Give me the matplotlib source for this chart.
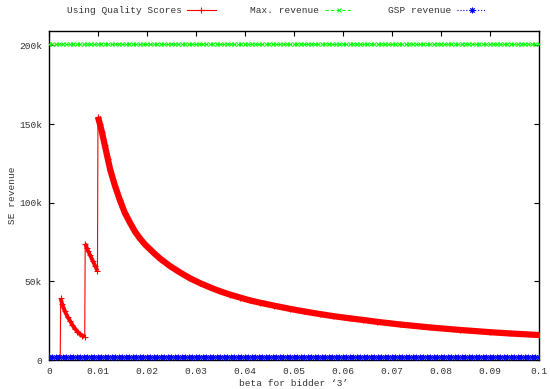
import numpy as np
import matplotlib.pyplot as plt
from matplotlib.lines import Line2D

plt.rcParams['font.family'] = ['Liberation Mono', 'DejaVu Sans Mono']
plt.rcParams['font.size'] = 6.8

# red curve, split in the four pieces between the jumps
seg0_x = [0.0, 0.0012, 0.0023]
seg0_y = [1500, 1500, 1500]
seg1_x = [0.0024, 0.0027, 0.00327, 0.0038, 0.0043, 0.0048, 0.0053, 0.0058, 0.0063, 0.0068, 0.0073]
seg1_y = [39200, 35500, 31000, 27500, 25000, 22300, 20100, 18200, 16700, 15600, 14800]
seg2_x = [0.0074, 0.0077, 0.0080, 0.0084, 0.0089, 0.0094, 0.0099]
seg2_y = [74000, 71500, 69300, 66700, 63300, 60100, 56700]
seg3_x = [0.0100, 0.0104, 0.0108, 0.0114, 0.0120, 0.0125, 0.0135, 0.0145, 0.0155,
          0.0166, 0.0176, 0.0186, 0.0196, 0.0206, 0.0215, 0.0227, 0.0247, 0.0267,
          0.0288, 0.0308, 0.0329, 0.0349, 0.0369, 0.039, 0.041, 0.0431, 0.046,
          0.0492, 0.052, 0.0553, 0.058, 0.0614, 0.064, 0.0669, 0.0716, 0.0778,
          0.0839, 0.09, 0.094, 0.1]
seg3_y = [154500, 150000, 145000, 136500, 128000, 121000, 110500, 101500, 93500,
          87000, 81500, 77200, 73500, 70500, 67800, 64500, 59800, 55800,
          52000, 49000, 46200, 43800, 41700, 39800, 38000, 36500, 34600,
          32600, 31000, 29300, 28000, 26600, 25600, 24400, 22700, 20800,
          19200, 17800, 17000, 16000]

beta_grid = np.linspace(0, 0.1, 141)
max_revenue = [201000] * len(beta_grid)
gsp_revenue = [2100] * len(beta_grid)

fig = plt.figure(figsize=(5.5, 3.89), dpi=100)
ax = fig.add_axes([0.089, 0.074, 0.891, 0.846])

# thin connecting line incl. the vertical jumps
all_x = seg0_x + seg1_x + seg2_x + seg3_x
all_y = seg0_y + seg1_y + seg2_y + seg3_y
ax.plot(all_x, all_y, color='#ff0000', lw=0.8, zorder=3)
# the dense '+' points look like a thick band
for sx, sy, w in [(seg1_x, seg1_y, 2.8), (seg2_x, seg2_y, 2.8), (seg3_x, seg3_y, 4.5)]:
    ax.plot(sx, sy, color='#ff0000', lw=w, marker='+', ms=5, mew=0.8,
            solid_capstyle='butt', solid_joinstyle='round', zorder=3)

ax.plot(beta_grid, max_revenue, color='#00ff00', lw=0.8, ls=(0, (3, 2)),
        marker='x', ms=3, mew=0.7, zorder=3)
ax.plot(beta_grid, gsp_revenue, color='#0000ff', lw=0.8, ls=':',
        marker=(8, 2, 0), ms=4, mew=0.7, zorder=4)

ax.set_xlim(0, 0.1)
ax.set_ylim(0, 209000)
ax.set_xticks(np.arange(0, 0.1001, 0.01))
ax.set_xticklabels(['0', '0.01', '0.02', '0.03', '0.04', '0.05', '0.06',
                    '0.07', '0.08', '0.09', '0.1'])
ax.set_yticks([0, 50000, 100000, 150000, 200000])
ax.set_yticklabels(['0', '50k', '100k', '150k', '200k'])
ax.tick_params(direction='in', length=3.5, width=0.8, top=True, right=True,
               colors='black', labelcolor='#333333', pad=5)
for s in ax.spines.values():
    s.set_linewidth(1.0)

ax.set_xlabel("beta for bidder \u20183\u2019", color='#333333', labelpad=2)
ax.set_ylabel('SE revenue', color='#333333')
ax.yaxis.set_label_coords(-0.066, 0.5)

handles = [
    Line2D([], [], color='#ff0000', lw=0.8, marker='+', ms=5, mew=0.8),
    Line2D([], [], color='#00ff00', lw=0.8, ls=(0, (3, 2)), marker='x', ms=3, mew=0.7),
    Line2D([], [], color='#0000ff', lw=0.8, ls=':', marker=(8, 2, 0), ms=4, mew=0.7),
]
leg = fig.legend(handles, ['Using Quality Scores', 'Max. revenue', 'GSP revenue'],
                 loc='center', bbox_to_anchor=(0.502, 0.973), ncol=3, frameon=False,
                 markerfirst=False, handlelength=3.0, columnspacing=3.7,
                 handletextpad=0.6, numpoints=1)
for t in leg.get_texts():
    t.set_color('#333333')

fig.savefig('out.png', dpi=100)
